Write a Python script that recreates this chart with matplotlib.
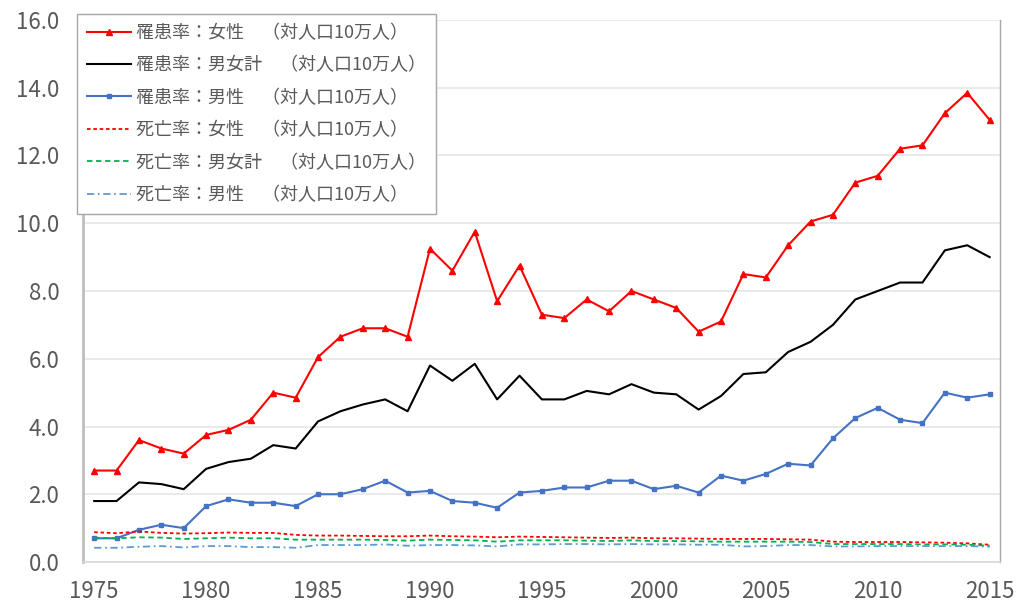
import numpy as np
import matplotlib.pyplot as plt

plt.rcParams['font.family'] = ['Noto Sans CJK JP', 'DejaVu Sans']

years = list(range(1975, 2016))

# 罹患率 (per 100,000)
inc_female = [2.7, 2.7, 3.6, 3.35, 3.2, 3.75, 3.9, 4.2, 5.0, 4.85,
              6.05, 6.65, 6.9, 6.9, 6.65, 9.25, 8.6, 9.75, 7.7, 8.75,
              7.3, 7.2, 7.75, 7.4, 8.0, 7.75, 7.5, 6.8, 7.1, 8.5,
              8.4, 9.35, 10.05, 10.25, 11.2, 11.4, 12.2, 12.3, 13.25, 13.85,
              13.05]
inc_total = [1.8, 1.8, 2.35, 2.3, 2.15, 2.75, 2.95, 3.05, 3.45, 3.35,
             4.15, 4.45, 4.65, 4.8, 4.45, 5.8, 5.35, 5.85, 4.8, 5.5,
             4.8, 4.8, 5.05, 4.95, 5.25, 5.0, 4.95, 4.5, 4.9, 5.55,
             5.6, 6.2, 6.5, 7.0, 7.75, 8.0, 8.25, 8.25, 9.2, 9.35,
             9.0]
inc_male = [0.7, 0.7, 0.95, 1.1, 1.0, 1.65, 1.85, 1.75, 1.75, 1.65,
            2.0, 2.0, 2.15, 2.4, 2.05, 2.1, 1.8, 1.75, 1.6, 2.05,
            2.1, 2.2, 2.2, 2.4, 2.4, 2.15, 2.25, 2.05, 2.55, 2.4,
            2.6, 2.9, 2.85, 3.65, 4.25, 4.55, 4.2, 4.1, 5.0, 4.85,
            4.95]

# 死亡率 (per 100,000)
mort_female = [0.88, 0.85, 0.9, 0.86, 0.84, 0.85, 0.87, 0.86, 0.86, 0.8,
               0.78, 0.78, 0.77, 0.76, 0.76, 0.78, 0.76, 0.75, 0.73, 0.75,
               0.74, 0.73, 0.72, 0.71, 0.72, 0.7, 0.7, 0.69, 0.68, 0.68,
               0.68, 0.67, 0.66, 0.6, 0.59, 0.59, 0.59, 0.58, 0.57, 0.55,
               0.51]
mort_total = [0.72, 0.7, 0.73, 0.72, 0.68, 0.7, 0.72, 0.7, 0.7, 0.66,
              0.66, 0.66, 0.66, 0.65, 0.63, 0.66, 0.65, 0.64, 0.6, 0.64,
              0.64, 0.64, 0.63, 0.62, 0.64, 0.62, 0.62, 0.61, 0.6, 0.6,
              0.6, 0.6, 0.59, 0.53, 0.53, 0.53, 0.53, 0.52, 0.52, 0.51,
              0.48]
mort_male = [0.42, 0.42, 0.45, 0.47, 0.43, 0.47, 0.47, 0.44, 0.44, 0.42,
             0.5, 0.5, 0.5, 0.52, 0.48, 0.5, 0.5, 0.49, 0.46, 0.52,
             0.52, 0.53, 0.53, 0.52, 0.53, 0.52, 0.52, 0.51, 0.51, 0.46,
             0.47, 0.5, 0.5, 0.46, 0.46, 0.47, 0.47, 0.47, 0.47, 0.47,
             0.45]

labels = ['罹患率：女性　（対人口10万人）',
          '罹患率：男女計　（対人口10万人）',
          '罹患率：男性　（対人口10万人）',
          '死亡率：女性　（対人口10万人）',
          '死亡率：男女計　（対人口10万人）',
          '死亡率：男性　（対人口10万人）']

fig = plt.figure(figsize=(10.17, 6.06), dpi=100)
ax = fig.add_axes([0.0816, 0.0726, 0.9014, 0.8944])

ax.plot(years, inc_female, color='#ff0000', lw=1.5, marker='^', ms=4, label=labels[0])
ax.plot(years, inc_total, color='#000000', lw=1.5, label=labels[1])
ax.plot(years, inc_male, color='#4472c4', lw=1.5, marker='s', ms=3.5, label=labels[2])
ax.plot(years, mort_female, color='#ff0000', lw=1.3, ls=(0, (2, 1.5)), label=labels[3])
ax.plot(years, mort_total, color='#00b050', lw=1.3, ls=(0, (3, 2)), label=labels[4])
ax.plot(years, mort_male, color='#5b9bd5', lw=1.3, ls=(0, (4, 2, 1, 2)), label=labels[5])

ax.set_xlim(1974.5, 2015.45)
ax.set_ylim(0, 16)
ax.set_xticks(range(1975, 2016, 5))
ax.set_yticks(np.arange(0, 16.1, 2))
ax.set_yticklabels([f'{v:.1f}' for v in np.arange(0, 16.1, 2)])
ax.tick_params(length=0, labelsize=16, colors='#595959')
ax.tick_params(axis='y', pad=17)
ax.tick_params(axis='x', pad=13)
ax.yaxis.grid(True, color='#e6e6e6', lw=1.2)
ax.set_axisbelow(True)

ax.spines['top'].set_visible(False)
ax.spines['left'].set_color('#bfbfbf')
ax.spines['left'].set_linewidth(2)
ax.spines['right'].set_color('#a6a6a6')
ax.spines['right'].set_linewidth(1)
ax.spines['bottom'].set_color('#d9d9d9')
ax.spines['bottom'].set_linewidth(1.2)

leg = fig.legend(loc='upper left', bbox_to_anchor=(0.076, 0.977), fontsize=13,
                 frameon=True, fancybox=False, edgecolor='#a6a6a6',
                 handlelength=2.4, handletextpad=0.3, labelspacing=0.8,
                 borderpad=0.55, borderaxespad=0, framealpha=1)
leg.get_frame().set_linewidth(1)
for t in leg.get_texts():
    t.set_color('#595959')

fig.savefig('out.png', dpi=100)
